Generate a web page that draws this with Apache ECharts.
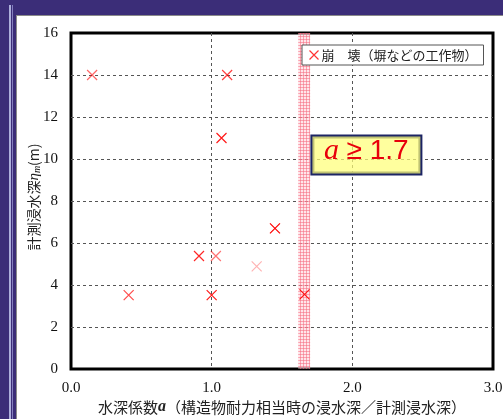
<!DOCTYPE html>
<html>
<head>
<meta charset="utf-8">
<script src="https://cdn.jsdelivr.net/npm/echarts@6/dist/echarts.min.js"></script>
<style>
  html, body { margin: 0; padding: 0; width: 503px; height: 419px; overflow: hidden; background: #3b2d78; }
  #stripe1 { position: absolute; left: 9px; top: 5px; width: 2px; height: 414px; background: #aeb0dc; }
  #stripe2 { position: absolute; left: 12px; top: 5px; width: 1px; height: 414px; background: #8580bf; }
  #panel { position: absolute; left: 16px; top: 15px; width: 487px; height: 404px; background: #fff;
           border-left: 1px solid #8a8a8a; border-top: 1px solid #8a8a8a; box-sizing: border-box; }
  #chart { position: absolute; left: 0; top: 0; width: 503px; height: 419px; }
</style>
</head>
<body>
<div id="stripe1"></div>
<div id="stripe2"></div>
<div id="panel"></div>
<div id="chart"></div>
<script>
// Water-depth coefficient a vs. measured inundation depth (collapsed walls etc.)
const coefA = [0.15, 1.11, 1.07, 0.91, 1.03, 1.32, 0.41, 1.00, 1.66, 1.45];
const depthM = [14.0, 14.0, 11.0, 5.38, 5.38, 4.89, 3.52, 3.52, 3.55, 6.70];
const markAlpha = [0.6, 0.75, 0.9, 0.85, 0.55, 0.3, 0.7, 0.9, 0.9, 1.0];

const xTicks = ['0.0', '1.0', '2.0', '3.0'];
const seriesName = '崩　壊（塀などの工作物）';
const threshold = 1.7;
const bandFrom = 1.615;
const noteAt = [2.10, 10.19];

function pattern(bg, line, size) {
  const c = document.createElement('canvas');
  c.width = c.height = size;
  const g = c.getContext('2d');
  g.fillStyle = bg; g.fillRect(0, 0, size, size);
  g.fillStyle = line; g.fillRect(0, 0, size, 1); g.fillRect(0, 0, 1, size);
  return c;
}
const pinkHatch = pattern('rgba(255,200,208,0.45)', 'rgba(245,110,130,0.55)', 3);

const crossPath = 'path://M0,0L10,10M10,0L0,10';
const serif = 'Liberation Serif';
const cjk = 'Noto Sans CJK JP';

const points = coefA.map((a, i) => ({
  value: [a, depthM[i]],
  itemStyle: { opacity: markAlpha[i] }
}));

const chart = echarts.init(document.getElementById('chart'), null, { renderer: 'canvas' });
chart.setOption({
  backgroundColor: 'transparent',
  animation: false,
  grid: { left: 71, right: 10, top: 33, bottom: 50, outerBoundsMode: 'none', containLabel: false,
          show: true, borderColor: '#000', borderWidth: 3, backgroundColor: 'transparent' },
  xAxis: {
    type: 'value', min: 0, max: 3, interval: 1,
    axisLine: { show: false }, axisTick: { show: false },
    axisLabel: { margin: 12, fontFamily: serif, fontSize: 15, color: '#111',
                 formatter: v => xTicks[Math.round(v)] },
    splitLine: { show: true, showMinLine: false, showMaxLine: false,
                 lineStyle: { type: [3, 3], color: '#555', width: 1 } },
    name: '水深係数{a|a}（構造物耐力相当時の浸水深／計測浸水深）',
    nameLocation: 'middle', nameGap: 30, nameMoveOverlap: false,
    nameTextStyle: { fontFamily: cjk, fontSize: 15, color: '#222',
                     rich: { a: { fontFamily: serif, fontStyle: 'italic', fontWeight: 'bold', fontSize: 16, color: '#222' } } }
  },
  yAxis: {
    type: 'value', min: 0, max: 16, interval: 2,
    axisLine: { show: false }, axisTick: { show: false },
    axisLabel: { margin: 13, fontFamily: serif, fontSize: 15, color: '#111' },
    splitLine: { show: true, showMinLine: false, showMaxLine: false,
                 lineStyle: { type: [3, 3], color: '#555', width: 1 } },
    name: '計測浸水深{e|η}{s|m}(m)',
    nameLocation: 'middle', nameGap: 29, nameRotate: 90, nameMoveOverlap: false,
    nameTextStyle: { fontFamily: cjk, fontSize: 14, color: '#222', padding: [0, 0, 0, 8],
                     rich: { e: { fontFamily: serif, fontStyle: 'italic', fontSize: 15, color: '#222' },
                             s: { fontFamily: serif, fontStyle: 'italic', fontSize: 10, color: '#222', verticalAlign: 'bottom', padding: [6, 0, 0, 0] } } }
  },
  legend: {
    left: 302, top: 45, padding: [3, 6, 3, 5],
    borderColor: '#555', borderWidth: 1, backgroundColor: '#fff',
    itemWidth: 9, itemHeight: 9, itemGap: 4,
    textStyle: { fontFamily: cjk, fontSize: 13, color: '#222', padding: [0, 0, 0, -2] },
    data: [{ name: seriesName, icon: crossPath,
             itemStyle: { color: 'none', borderColor: '#ff0000', borderWidth: 1.2 } }]
  },
  series: [
    {
      // hatched band at the threshold coefficient
      type: 'scatter', data: [], z: 5, silent: true,
      markArea: {
        silent: true,
        itemStyle: { color: { image: pinkHatch, repeat: 'repeat' } },
        data: [[{ xAxis: bandFrom }, { xAxis: threshold }]]
      }
    },
    {
      name: seriesName,
      type: 'scatter', z: 6,
      symbol: crossPath, symbolSize: 10,
      itemStyle: { color: 'none', borderColor: '#ff0000', borderWidth: 1.2 },
      data: points,
      markPoint: {
        silent: true,
        data: [{
          coord: noteAt, symbol: 'circle', symbolSize: 1,
          itemStyle: { color: 'rgba(0,0,0,0)' },
          label: {
            show: true, position: 'inside',
            formatter: '{a|a }{b|≥ ' + threshold.toFixed(1) + '}',
            backgroundColor: 'rgba(255,255,120,0.72)',
            borderColor: '#1c2464', borderWidth: 2,
            width: 108, height: 37, align: 'center', verticalAlign: 'middle',
            padding: 0,
            rich: {
              a: { fontFamily: serif, fontStyle: 'italic', fontSize: 30, color: '#e8000b' },
              b: { fontFamily: 'Liberation Sans', fontSize: 28, color: '#e8000b' }
            }
          }
        }]
      }
    }
  ]
});
</script>
</body>
</html>
